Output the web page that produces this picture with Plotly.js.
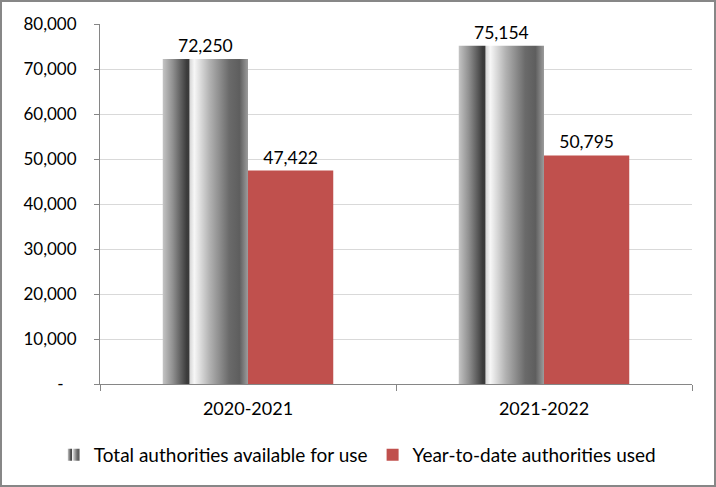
<!DOCTYPE html>
<html>
<head>
<meta charset="utf-8">
<script src="https://cdn.plot.ly/plotly-3.0.1.min.js"></script>
<style>
  html, body { margin: 0; padding: 0; background: #fff; }
  #wrap { position: relative; width: 716px; height: 487px; }
  #chart { width: 716px; height: 487px; }
  #frame { position: absolute; left: 0; top: 0; width: 716px; height: 487px; box-sizing: border-box;
           border: 2px solid #878787; pointer-events: none; z-index: 10; }
</style>
</head>
<body>
<div id="wrap"><div id="chart"></div><div id="frame"></div></div>
<script>
const categories = ["2020-2021", "2021-2022"];
const seriesNames = ["Total authorities available for use", "Year-to-date authorities used"];
const totalAvailable = [72250, 75154];
const usedToDate = [47422, 50795];
const yTickVals = [0, 10000, 20000, 30000, 40000, 50000, 60000, 70000, 80000];
const yTickText = ["-\u00a0\u00a0\u00a0", "10,000", "20,000", "30,000", "40,000", "50,000", "60,000", "70,000", "80,000"];

const fontFam = "Lato, 'Open Sans', sans-serif";
const fmt = v => v.toLocaleString("en-US");

const traces = [
  {
    type: "bar", name: seriesNames[0], x: categories, y: totalAvailable,
    marker: { color: "#8c8c8c", line: { width: 0 } },
    text: totalAvailable.map(fmt), textposition: "outside", cliponaxis: false,
    textfont: { family: fontFam, size: 17.5, color: "#000" }, hoverinfo: "none"
  },
  {
    type: "bar", name: seriesNames[1], x: categories, y: usedToDate,
    marker: { color: "#C0504D", line: { width: 0 } },
    text: usedToDate.map(fmt), textposition: "outside", cliponaxis: false,
    textfont: { family: fontFam, size: 17.5, color: "#000" }, hoverinfo: "none"
  }
];

const layout = {
  width: 716, height: 487,
  margin: { l: 100, r: 24, t: 24, b: 103, autoexpand: false },
  paper_bgcolor: "#fff", plot_bgcolor: "#fff",
  font: { family: fontFam, size: 16, color: "#000" },
  barmode: "group", bargap: 0.424, bargroupgap: 0,
  showlegend: true,
  legend: {
    orientation: "h", xref: "paper", x: -0.078, xanchor: "left",
    yref: "paper", y: -0.197, yanchor: "middle",
    font: { family: fontFam, size: 19, color: "#000" },
    itemwidth: 30, tracegroupgap: 0
  },
  xaxis: {
    type: "category", showgrid: false, showline: true, linecolor: "#868686", linewidth: 1,
    ticks: "outside", tickson: "boundaries", ticklen: 6, tickcolor: "#868686",
    tickfont: { family: fontFam, size: 18, color: "#000" }, ticklabelstandoff: 8
  },
  yaxis: {
    range: [0, 80000], tickvals: yTickVals, ticktext: yTickText,
    showgrid: true, gridcolor: "#d9d9d9", gridwidth: 1,
    showline: true, linecolor: "#868686", linewidth: 1, zeroline: false,
    ticks: "outside", ticklen: 5, tickcolor: "#868686",
    tickfont: { family: fontFam, size: 17, color: "#000" }, ticklabelstandoff: 14
  }
};

Plotly.newPlot("chart", traces, layout, { displayModeBar: false, staticPlot: true }).then(gd => {
  const svg = gd.querySelector(".main-svg");
  const ns = "http://www.w3.org/2000/svg";
  let defs = svg.querySelector("defs");
  if (!defs) { defs = document.createElementNS(ns, "defs"); svg.insertBefore(defs, svg.firstChild); }
  const grad = document.createElementNS(ns, "linearGradient");
  grad.setAttribute("id", "metalGrad");
  grad.setAttribute("x1", "0"); grad.setAttribute("y1", "0");
  grad.setAttribute("x2", "1"); grad.setAttribute("y2", "0");
  const stops = [
    [0, "#c4c4c4"], [0.12, "#8f8f8f"], [0.28, "#3c3c3c"], [0.305, "#3a3a3a"],
    [0.32, "#d8d8d8"], [0.37, "#f7f7f7"], [0.55, "#b2b2b2"], [0.78, "#6a6a6a"],
    [0.9, "#5e5e5e"], [1, "#9c9c9c"]
  ];
  stops.forEach(([o, c]) => {
    const s = document.createElementNS(ns, "stop");
    s.setAttribute("offset", o); s.setAttribute("stop-color", c);
    grad.appendChild(s);
  });
  defs.appendChild(grad);
  const barTraces = gd.querySelectorAll(".barlayer .trace.bars");
  if (barTraces[0]) barTraces[0].querySelectorAll("path").forEach(p => { p.style.fill = "url(#metalGrad)"; });
  const legendTraces = gd.querySelectorAll(".legend .traces");
  if (legendTraces[0]) legendTraces[0].querySelectorAll(".legendpoints path").forEach(p => { p.style.fill = "url(#metalGrad)"; });
});
</script>
</body>
</html>
